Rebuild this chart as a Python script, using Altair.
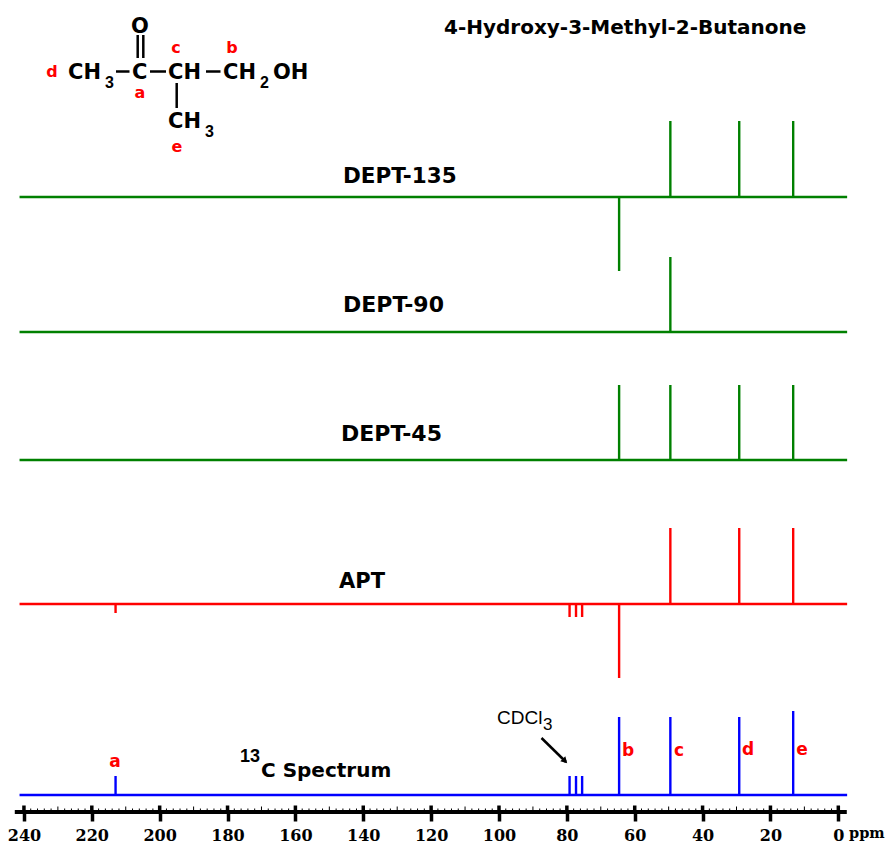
import altair as alt
import pandas as pd

# Chemical shifts (ppm) and signed peak heights for each spectrum
PPM_A, PPM_B, PPM_C, PPM_D, PPM_E = 213.0, 64.6, 49.5, 29.2, 13.3

baselines = {"DEPT-135": 197, "DEPT-90": 332, "DEPT-45": 460, "APT": 604, "13C": 795}
colors = {"DEPT-135": "#008000", "DEPT-90": "#008000", "DEPT-45": "#008000", "APT": "#ff0000", "13C": "#0000ff"}
dept135 = [(PPM_B, -74), (PPM_C, 76), (PPM_D, 76), (PPM_E, 76)]
dept90 = [(PPM_C, 75)]
dept45 = [(PPM_B, 75), (PPM_C, 75), (PPM_D, 75), (PPM_E, 75)]
apt = [(PPM_A, -9), (79.2, -13), (77.3, -13), (75.5, -13), (PPM_B, -74), (PPM_C, 76), (PPM_D, 76), (PPM_E, 76)]
c13 = [(PPM_A, 19), (79.2, 19), (77.3, 19), (75.5, 19), (PPM_B, 78), (PPM_C, 78), (PPM_D, 78), (PPM_E, 84)]
spectra = {"DEPT-135": dept135, "DEPT-90": dept90, "DEPT-45": dept45, "APT": apt, "13C": c13}

axis_major = list(range(0, 241, 20))
axis_mid = list(range(10, 240, 20))
axis_minor = [v for v in range(0, 241, 2) if v % 10 != 0]

X_DOMAIN = [244.7, -14.35]
Y_DOMAIN = [812, 8]
BASE_LEFT, BASE_RIGHT = 241.3, -2.6
AXIS_LEFT, AXIS_RIGHT = 242.7, -2.5

SANS = "Liberation Sans"
BOLD = "DejaVu Sans"
SERIF = "DejaVu Serif"
BLACK, RED = "#000000", "#ff0000"
# text, left/centre x, baseline y (picture pixels), size, colour, weight, align, family
labels = [
    ("4-Hydroxy-3-Methyl-2-Butanone", 444, 34, 20, BLACK, "bold", "left", BOLD),
    ("DEPT-135", 343, 183, 21.5, BLACK, "bold", "left", BOLD),
    ("DEPT-90", 343, 312, 22, BLACK, "bold", "left", BOLD),
    ("DEPT-45", 341, 441, 22, BLACK, "bold", "left", BOLD),
    ("APT", 339, 588, 21, BLACK, "bold", "left", BOLD),
    ("13", 240, 762, 18, BLACK, "bold", "left", SANS),
    ("C Spectrum", 261, 777, 20, BLACK, "bold", "left", BOLD),
    ("CDCl", 497, 724, 19, BLACK, "normal", "left", SANS),
    ("3", 543, 730, 17, BLACK, "normal", "left", SANS),
    ("O", 140, 33, 21, BLACK, "bold", "center", BOLD),
    ("CH", 68, 79, 21, BLACK, "bold", "left", BOLD),
    ("3", 105, 88, 16, BLACK, "bold", "left", SANS),
    ("C", 132, 79, 21, BLACK, "bold", "left", BOLD),
    ("CH", 168, 79, 21, BLACK, "bold", "left", BOLD),
    ("CH", 223, 79, 21, BLACK, "bold", "left", BOLD),
    ("2", 260, 88, 16, BLACK, "bold", "left", SANS),
    ("OH", 273, 79, 21, BLACK, "bold", "left", BOLD),
    ("CH", 168, 128, 21, BLACK, "bold", "left", BOLD),
    ("3", 205, 137, 16, BLACK, "bold", "left", SANS),
    ("d", 52, 77, 16, RED, "bold", "center", BOLD),
    ("c", 176, 53, 16, RED, "bold", "center", BOLD),
    ("b", 232, 53, 16, RED, "bold", "center", BOLD),
    ("a", 140, 98, 16, RED, "bold", "center", BOLD),
    ("e", 177, 152, 16, RED, "bold", "center", BOLD),
    ("a", 115, 767, 17, RED, "bold", "center", BOLD),
    ("b", 628, 756, 17, RED, "bold", "center", BOLD),
    ("c", 679, 756, 17, RED, "bold", "center", BOLD),
    ("d", 748, 755, 17, RED, "bold", "center", BOLD),
    ("e", 802, 755, 17, RED, "bold", "center", BOLD),
    ("ppm", 849, 838, 14.5, BLACK, "bold", "left", SERIF),
]
# bonds of the structure and the solvent arrow: x1, y1, x2, y2 (picture pixels)
bonds = [
    (137.7, 35, 137.7, 58), (143.3, 35, 143.3, 58),
    (116, 71.5, 129.5, 71.5), (150, 71.5, 166, 71.5), (206, 71.5, 220.5, 71.5),
    (176.7, 83, 176.7, 108),
    (541.5, 738, 566, 762),
]

OX, OY = 8, 8
peak_rows = []
for name, peaks in spectra.items():
    base = baselines[name]
    peak_rows.append(dict(x=BASE_LEFT, x2=BASE_RIGHT, y=base, y2=base, color=colors[name]))
    for ppm, h in peaks:
        peak_rows.append(dict(x=ppm, x2=ppm, y=base, y2=base - h, color=colors[name]))
peak_df = pd.DataFrame(peak_rows)

xs = alt.Scale(domain=X_DOMAIN, nice=False, zero=False)
ys = alt.Scale(domain=Y_DOMAIN, nice=False, zero=False)
X_AXIS = alt.Axis(
    values=axis_major, domain=False, grid=False, title=None, tickSize=9, tickWidth=3.5,
    tickColor=BLACK, labelFont=SERIF, labelFontSize=16, labelFontWeight="bold",
    labelColor=BLACK, labelPadding=6, labelAngle=0, format="d", labelFlush=False, labelOverlap=False,
)

rules = alt.Chart(peak_df).mark_rule(strokeWidth=2.4).encode(
    x=alt.X("x:Q", scale=xs, axis=X_AXIS),
    x2="x2:Q",
    y=alt.Y("y:Q", scale=ys, axis=None),
    y2="y2:Q",
    color=alt.Color("color:N", scale=None),
)


def ticks(values, top, width):
    df = pd.DataFrame({"x": values, "y": [812] * len(values), "y2": [top] * len(values)})
    return alt.Chart(df).mark_rule(color=BLACK, strokeWidth=width).encode(
        x=alt.X("x:Q", scale=xs, axis=X_AXIS), y=alt.Y("y:Q", scale=ys, axis=None), y2="y2:Q"
    )


axis_line = alt.Chart(pd.DataFrame({"x": [AXIS_LEFT], "x2": [AXIS_RIGHT], "y": [812]})).mark_rule(
    color=BLACK, strokeWidth=4
).encode(x=alt.X("x:Q", scale=xs, axis=X_AXIS), x2="x2:Q", y=alt.Y("y:Q", scale=ys, axis=None))

bond_layers = [
    alt.Chart(pd.DataFrame({"k": [i]})).mark_rule(color=BLACK, strokeWidth=2.5).encode(
        x=alt.value(a - OX), y=alt.value(b - OY), x2=alt.value(c - OX), y2=alt.value(d - OY)
    )
    for i, (a, b, c, d) in enumerate(bonds)
]
arrow_head = alt.Chart(pd.DataFrame({"k": [0]})).mark_point(
    shape="triangle-up", filled=True, color=BLACK, size=50, angle=135, opacity=1
).encode(x=alt.value(565 - OX), y=alt.value(761 - OY))

text_layers = [
    alt.Chart(pd.DataFrame({"t": [t]})).mark_text(
        font=fam, fontSize=size, fontWeight=w, color=col, align=al, baseline="alphabetic"
    ).encode(x=alt.value(x - OX), y=alt.value(y - OY), text="t:N")
    for t, x, y, size, col, w, al, fam in labels
]

chart = alt.layer(
    rules, ticks(axis_major, 805.5, 3.5), ticks(axis_mid, 806.5, 1), ticks(axis_minor, 808.5, 1), axis_line,
    *bond_layers, arrow_head, *text_layers,
).properties(
    width=879, height=804,
    autosize=alt.AutoSizeParams(type="none"),
    padding={"left": 0, "top": 0, "right": 0, "bottom": 31},
).configure_view(stroke=None)

chart.save("out.html", embed_options={"renderer": "svg", "actions": False})
